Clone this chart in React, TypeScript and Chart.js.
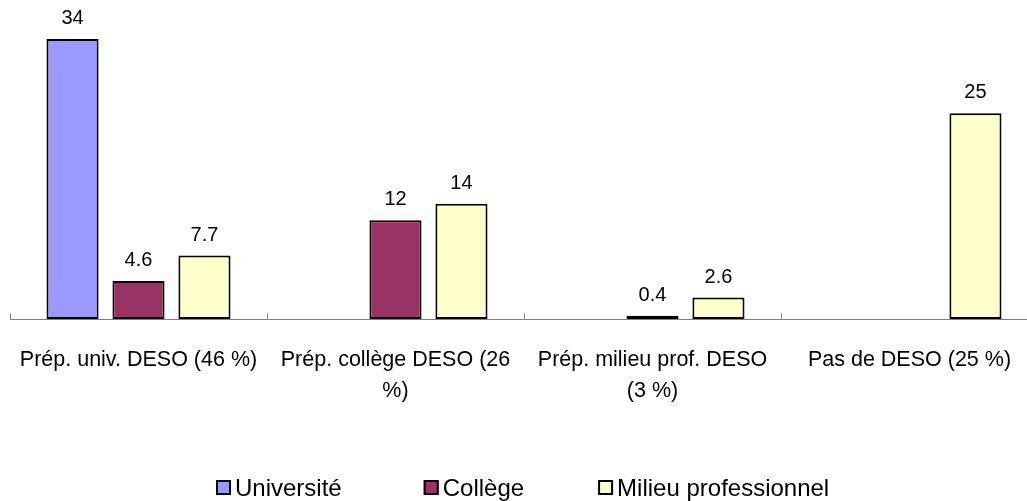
import React, { useEffect, useRef } from "react";
import { Chart, registerables } from "chart.js";

Chart.register(...registerables);

const categories: string[][] = [
  ["Prép. univ. DESO (46 %)"],
  ["Prép. collège DESO (26", "%)"],
  ["Prép. milieu prof. DESO", "(3 %)"],
  ["Pas de DESO (25 %)"],
];
const seriesNames = ["Université", "Collège", "Milieu professionnel"];
const universite: (number | null)[] = [34, null, null, null];
const college: (number | null)[] = [4.6, 12, 0.4, null];
const milieuPro: (number | null)[] = [7.7, 14, 2.6, 25];
const seriesColors = ["#9999FF", "#993366", "#FFFFCC"];

const FONT = '"Liberation Sans", Arial, Helvetica, sans-serif';

const axisPlugin = {
  id: "axisLine",
  beforeDatasetsDraw(chart: any) {
    const { ctx, chartArea, scales } = chart;
    const x = scales.x;
    const y0 = Math.round(scales.y.getPixelForValue(0)) + 0.5;
    ctx.save();
    ctx.strokeStyle = "#808080";
    ctx.lineWidth = 1;
    ctx.beginPath();
    ctx.moveTo(chartArea.left, y0);
    ctx.lineTo(chartArea.right, y0);
    const n = categories.length;
    const step = (x.right - x.left) / n;
    for (let i = 0; i <= n; i++) {
      const px = Math.round(x.left + i * step) + 0.5;
      ctx.moveTo(px, y0);
      ctx.lineTo(px, y0 - 6);
    }
    ctx.stroke();
    ctx.restore();
  },
};

const labelPlugin = {
  id: "valueLabels",
  afterDatasetsDraw(chart: any) {
    const { ctx } = chart;
    ctx.save();
    ctx.font = `20px ${FONT}`;
    ctx.fillStyle = "#000";
    ctx.textAlign = "center";
    ctx.textBaseline = "alphabetic";
    chart.data.datasets.forEach((ds: any, i: number) => {
      const meta = chart.getDatasetMeta(i);
      meta.data.forEach((bar: any, j: number) => {
        const v = ds.data[j];
        if (v === null || v === undefined) return;
        ctx.fillText(String(v), bar.x, bar.y - 15);
      });
    });
    ctx.restore();
  },
};

const legendPlugin = {
  id: "customLegend",
  afterDraw(chart: any) {
    const { ctx } = chart;
    ctx.save();
    ctx.font = `24px ${FONT}`;
    const box = 15;
    const gapText = 4;
    const gapItems = [82, 74];
    const widths = seriesNames.map((s) => ctx.measureText(s).width);
    let x = 216;
    const boxTop = 480;
    const baseline = 496;
    seriesNames.forEach((name, i) => {
      ctx.fillStyle = seriesColors[i];
      ctx.fillRect(x, boxTop, box, box);
      ctx.strokeStyle = "#000";
      ctx.lineWidth = 2;
      ctx.strokeRect(x + 1, boxTop + 1, box - 2, box - 2);
      ctx.fillStyle = "#000";
      ctx.textAlign = "left";
      ctx.textBaseline = "alphabetic";
      ctx.fillText(name, x + box + gapText, baseline);
      x += box + gapText + widths[i] + (gapItems[i] || 0);
    });
    ctx.restore();
  },
};

export default function App() {
  const ref = useRef<HTMLCanvasElement | null>(null);
  useEffect(() => {
    if (!ref.current) return;
    const datasets = [universite, college, milieuPro].map((d, i) => ({
      label: seriesNames[i],
      data: d,
      backgroundColor: seriesColors[i],
      borderColor: "#000000",
      borderWidth: 2,
      borderSkipped: false as const,
      categoryPercentage: 0.77,
      barPercentage: 0.79,
    }));
    const chart = new Chart(ref.current, {
      type: "bar",
      data: { labels: categories, datasets },
      options: {
        responsive: false,
        animation: false,
        devicePixelRatio: 1,
        layout: { padding: { left: 10, right: 2, top: 0, bottom: 0 } },
        plugins: {
          legend: { display: false },
          tooltip: { enabled: false },
        },
        scales: {
          x: {
            grid: { display: false },
            border: { display: false },
            ticks: {
              color: "#000",
              padding: 18.5,
              font: { family: FONT, size: 21.5, lineHeight: 1.4 },
              maxRotation: 0,
              autoSkip: false,
            },
            afterFit: (scale: any) => {
              scale.height = 182;
            },
          },
          y: {
            display: false,
            min: 0,
            max: 38.74,
          },
        },
      },
      plugins: [axisPlugin, labelPlugin, legendPlugin],
    });
    return () => chart.destroy();
  }, []);
  return (
    <div
      style={{
        position: "fixed",
        left: 0,
        top: 0,
        width: 1027,
        height: 501,
        overflow: "hidden",
        background: "#fff",
      }}
    >
      <canvas ref={ref} width={1040} height={501} style={{ display: "block" }} />
    </div>
  );
}
